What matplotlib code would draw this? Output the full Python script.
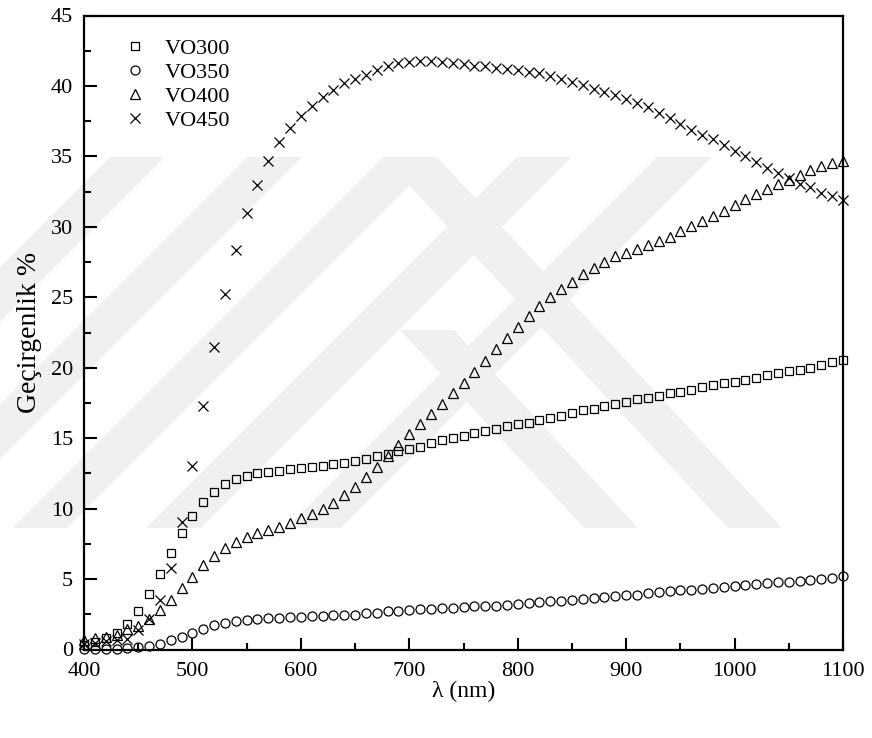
import numpy as np
import matplotlib
matplotlib.use("Agg")
import matplotlib.pyplot as plt
from matplotlib.patches import Polygon
from matplotlib.ticker import MultipleLocator

plt.rcParams['font.family'] = ['Liberation Serif', 'DejaVu Serif']

# wavelength grid (nm)
wavelength = list(range(400, 1101, 10))

# transmittance (%) of each film
vo300 = [0.35, 0.55, 0.8, 1.18, 1.8, 2.76, 3.95, 5.35, 6.84, 8.25,
         9.48, 10.47, 11.2, 11.72, 12.07, 12.33, 12.5, 12.6, 12.68, 12.78,
         12.85, 12.92, 13.0, 13.15, 13.27, 13.4, 13.55, 13.7, 13.85, 14.1,
         14.25, 14.4, 14.65, 14.85, 15.0, 15.15, 15.35, 15.5, 15.65, 15.85,
         15.98, 16.1, 16.3, 16.45, 16.6, 16.8, 17.0, 17.1, 17.28, 17.45,
         17.6, 17.75, 17.88, 18.0, 18.2, 18.3, 18.45, 18.6, 18.75, 18.9,
         19.0, 19.15, 19.3, 19.45, 19.6, 19.75, 19.85, 20.0, 20.2, 20.4,
         20.55]
vo350 = [0.02, 0.02, 0.02, 0.03, 0.12, 0.19, 0.24, 0.4, 0.64, 0.9,
         1.18, 1.46, 1.72, 1.89, 2.0, 2.12, 2.19, 2.24, 2.26, 2.29,
         2.31, 2.36, 2.4, 2.43, 2.45, 2.48, 2.56, 2.62, 2.71, 2.76,
         2.83, 2.85, 2.88, 2.93, 2.96, 3.02, 3.06, 3.08, 3.11, 3.18,
         3.23, 3.3, 3.35, 3.42, 3.47, 3.54, 3.61, 3.66, 3.7, 3.77,
         3.84, 3.89, 4.01, 4.08, 4.15, 4.19, 4.24, 4.29, 4.36, 4.43,
         4.53, 4.6, 4.64, 4.71, 4.76, 4.8, 4.88, 4.95, 5.02, 5.11,
         5.23]
vo400 = [0.7, 0.83, 0.9, 1.0, 1.46, 1.7, 2.2, 2.83, 3.54, 4.36,
         5.18, 6.0, 6.67, 7.19, 7.66, 8.01, 8.25, 8.49, 8.72, 9.0,
         9.31, 9.62, 10.0, 10.4, 11.0, 11.55, 12.22, 12.95, 13.7, 14.5,
         15.3, 16.0, 16.75, 17.45, 18.2, 18.95, 19.7, 20.5, 21.3, 22.1,
         22.9, 23.65, 24.4, 25.0, 25.6, 26.1, 26.65, 27.1, 27.5, 27.9,
         28.15, 28.4, 28.7, 29.0, 29.3, 29.7, 30.05, 30.4, 30.75, 31.15,
         31.55, 31.95, 32.3, 32.7, 33.05, 33.3, 33.7, 34.0, 34.3, 34.5,
         34.65]
vo450 = [0.42, 0.47, 0.6, 0.7, 0.78, 1.37, 2.2, 3.54, 5.82, 9.07,
         13.0, 17.3, 21.45, 25.2, 28.35, 30.97, 33.0, 34.7, 36.0, 37.0,
         37.9, 38.6, 39.2, 39.7, 40.2, 40.5, 40.8, 41.15, 41.4, 41.6,
         41.7, 41.75, 41.75, 41.7, 41.65, 41.55, 41.45, 41.4, 41.3, 41.2,
         41.1, 41.0, 40.9, 40.7, 40.5, 40.3, 40.05, 39.8, 39.6, 39.35,
         39.05, 38.8, 38.5, 38.1, 37.7, 37.3, 36.9, 36.5, 36.2, 35.8,
         35.4, 35.0, 34.6, 34.2, 33.8, 33.5, 33.05, 32.8, 32.4, 32.2,
         31.9]

W, H = 872, 738
fig = plt.figure(figsize=(W / 100, H / 100), dpi=100)
ax = fig.add_axes([84 / W, 1 - 649.5 / H, 759 / W, 634 / H])
ax.set_facecolor('none')


def px(points):
    return [(x / W, 1 - y / H) for x, y in points]


# faint background stripes
gray = '#f0f0f0'
y_top, y_bot = 157, 528
for x0 in [110, 247, 383, 517, 657]:
    shift = 371
    band = [(x0, y_top), (x0 + 55, y_top), (x0 + 55 - shift, y_bot), (x0 - shift, y_bot)]
    fig.add_artist(Polygon(px(band), closed=True, transform=fig.transFigure,
                           facecolor=gray, edgecolor='none', zorder=-1))
for (x0, yt) in [(383, 157), (400, 330)]:
    shift = (y_bot - yt) * 0.93
    band = [(x0, yt), (x0 + 54, yt), (x0 + 54 + shift, y_bot), (x0 + shift, y_bot)]
    fig.add_artist(Polygon(px(band), closed=True, transform=fig.transFigure,
                           facecolor=gray, edgecolor='none', zorder=-1))

ms = dict(linestyle='none', markerfacecolor='none', markeredgecolor='black',
          markeredgewidth=0.9, clip_on=False)
ax.plot(wavelength, vo300, marker='s', markersize=6, label='VO300', **ms)
ax.plot(wavelength, vo350, marker='o', markersize=6.5, label='VO350', **ms)
ax.plot(wavelength, vo400, marker='^', markersize=7, label='VO400', **ms)
ax.plot(wavelength, vo450, marker='x', markersize=7, label='VO450', **ms)

ax.set_xlim(400, 1100)
ax.set_ylim(0, 45)
ax.xaxis.set_major_locator(MultipleLocator(100))
ax.xaxis.set_minor_locator(MultipleLocator(50))
ax.yaxis.set_major_locator(MultipleLocator(5))
ax.yaxis.set_minor_locator(MultipleLocator(2.5))
ax.tick_params(which='both', direction='in', top=False, right=False,
               width=1.5, labelsize=16)
ax.tick_params(axis='x', which='major', pad=9)
ax.tick_params(axis='y', which='major', pad=8)
ax.tick_params(which='major', length=9)
ax.tick_params(which='minor', length=5)
for s in ax.spines.values():
    s.set_linewidth(1.6)

ax.set_xlabel('λ (nm)', fontsize=17, labelpad=0)
ax.set_ylabel('Geçirgenlik %', fontsize=20, labelpad=6)

ax.legend(loc='upper left', bbox_to_anchor=(0.0527, 0.964), frameon=False,
          fontsize=16, numpoints=1, handlelength=1.0, handletextpad=0.85,
          labelspacing=0.15, borderpad=0, borderaxespad=0)

fig.savefig('out.png', dpi=100)
